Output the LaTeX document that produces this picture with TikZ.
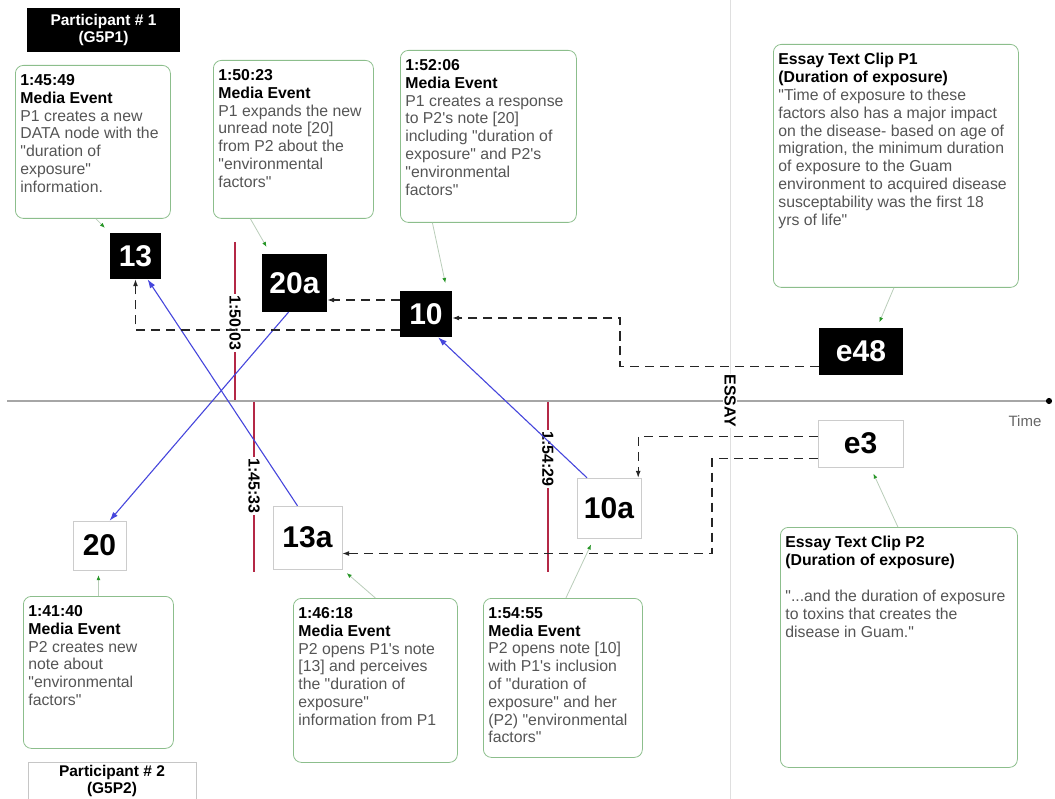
\documentclass[tikz,border=0pt]{standalone}
\usepackage{fontspec}
\setmainfont{Liberation Sans}[Ligatures=TeXOff]
\usetikzlibrary{arrows.meta}
\definecolor{boxgreen}{RGB}{140,190,140}
\definecolor{notegray}{RGB}{185,205,185}
\definecolor{tipgreen}{RGB}{40,150,40}
\definecolor{linkblue}{RGB}{70,70,220}
\definecolor{markred}{RGB}{180,40,70}
\definecolor{bodygray}{RGB}{85,85,85}
\newcommand{\cliptext}[3]{\parbox[t][#2][t]{#1}{\raggedright\fontsize{15.8}{17.8}\selectfont #3}}
\newcommand{\evhead}[1]{\textbf{#1}\\\textbf{Media Event}\\\color{bodygray}}
\tikzset{
  evbox/.style={draw=boxgreen, line width=0.8pt, rounded corners=8pt, anchor=north west, inner xsep=5pt, inner ysep=9pt},
  pblack/.style={fill=black, text=white, inner sep=0pt, font=\bfseries\fontsize{30}{30}\selectfont},
  pwhite/.style={draw=gray!40, fill=white, text=black, inner sep=0pt, font=\bfseries\fontsize{30}{30}\selectfont},
  pbox/.style={align=center, inner sep=0pt, font=\bfseries\fontsize{15.5}{17}\selectfont},
  markline/.style={draw=markred, line width=1.4pt},
  marklabel/.style={fill=white, rotate=-90, inner sep=1pt, font=\bfseries\fontsize{16}{16}\selectfont},
  linkarrow/.style={draw=linkblue, line width=1.1pt, -{Latex[length=9pt,width=6pt]}},
  dashlink/.style={draw=black!85, line width=1.1pt, dash pattern=on 9pt off 6pt, -{Latex[length=7pt,width=5pt]}},
  notelink/.style={draw=notegray, line width=0.8pt, -{Latex[length=5pt,width=4pt,color=tipgreen]}}
}
\begin{document}
\begin{tikzpicture}[x=1pt,y=-1pt]
\useasboundingbox (0,0) rectangle (1055,799);
% essay line and time axis
\draw[gray!25, line width=1pt] (730,0) -- (730,799);
\draw[gray!70, line width=2pt, -{Circle[length=6pt,color=black]}] (7,401) -- (1052,401);
\node[text=black!60, font=\fontsize{15}{15}\selectfont] (timelbl) at (1025,421) {Time};
\node[marklabel] (essaylbl) at (730,401) {ESSAY};
% time markers
\draw[markline] (235,242) -- (235,400);
\node[marklabel] (t5003) at (235,323) {1:50:03};
\draw[markline] (254,402) -- (254,572);
\node[marklabel] (t4533) at (254,486) {1:45:33};
\draw[markline] (548,402) -- (548,572);
\node[marklabel] (t5429) at (548,459) {1:54:29};
% participants
\node[pbox, fill=black, text=white, minimum width=153pt, minimum height=44pt] (part1) at (103.5,30) {Participant \# 1\\(G5P1)};
\node[pbox, draw=gray!45, minimum width=168pt, minimum height=37pt] (part2) at (112,780.5) {Participant \# 2\\(G5P2)};
% event boxes
\node[evbox] (ev1) at (15,65) {\cliptext{145pt}{135pt}{\evhead{1:45:49}P1 creates a new\\DATA node with the\\"duration of\\exposure"\\information.}};
\node[evbox] (ev2) at (213,60) {\cliptext{150pt}{140pt}{\evhead{1:50:23}P1 expands the new\\unread note [20]\\from P2 about the\\"environmental\\factors"}};
\node[evbox] (ev3) at (400,50) {\cliptext{166pt}{154pt}{\evhead{1:52:06}P1 creates a response\\to P2's note [20]\\including  "duration of\\exposure" and P2's\\"environmental\\factors"}};
\node[evbox] (clip1) at (773,44) {\cliptext{235pt}{225pt}{\textbf{Essay Text Clip P1}\\\textbf{(Duration of exposure)}\\\color{bodygray}"Time of exposure to these\\factors also has a major impact\\on the disease- based on age of\\migration, the minimum duration\\of exposure to the Guam\\environment to acquired disease\\susceptability was the first 18\\yrs of life"}};
\node[evbox] (ev4) at (23,596) {\cliptext{140pt}{134pt}{\evhead{1:41:40}P2 creates new\\note about\\"environmental\\factors"}};
\node[evbox] (ev5) at (293,598) {\cliptext{154pt}{146pt}{\evhead{1:46:18}P2 opens P1's note\\{}[13] and perceives\\the "duration of\\exposure"\\information from P1}};
\node[evbox] (ev6) at (483,598) {\cliptext{149pt}{141pt}{\evhead{1:54:55}P2 opens note [10]\\with P1's inclusion\\of "duration of\\exposure" and her\\(P2) "environmental\\factors"}};
\node[evbox] (clip2) at (780,527) {\cliptext{227pt}{222pt}{\textbf{Essay Text Clip P2}\\\textbf{(Duration of exposure)}\\[18pt]\color{bodygray}"...and the duration of exposure\\to toxins that creates the\\disease in Guam."}};
% notes
\node[pblack, minimum width=51pt, minimum height=46pt] (n13) at (135.5,256) {13};
\node[pblack, minimum width=65pt, minimum height=58pt] (n20a) at (294.5,283) {20a};
\node[pblack, minimum width=52pt, minimum height=46pt] (n10) at (426,314) {10};
\node[pblack, minimum width=84pt, minimum height=47pt] (ne48) at (861,351.5) {e48};
\node[pwhite, minimum width=53pt, minimum height=49pt] (n20) at (99.5,545.5) {20};
\node[pwhite, minimum width=69pt, minimum height=63pt] (n13a) at (307.5,537.5) {13a};
\node[pwhite, minimum width=64pt, minimum height=60pt] (n10a) at (609,508) {10a};
\node[pwhite, minimum width=85pt, minimum height=47pt] (ne3) at (860.5,443.5) {e3};
% opened notes
\draw[linkarrow] ([xshift=-6pt]n20a.south) -- ([xshift=10pt]n20.north);
\draw[linkarrow] ([xshift=-10pt]n13a.north) -- ([xshift=12pt]n13.south);
\draw[linkarrow] ([xshift=-22pt]n10a.north) -- ([xshift=12pt]n10.south);
% build-on links
\coordinate (d10) at ([yshift=14pt]n10.west);
\coordinate (k48) at (620,340);
\coordinate (k3) at (712,500);
\draw[dashlink] (d10) -- (d10 -| n20a.east);
\draw[dashlink] ([yshift=-16pt]n10.west) -| (n13.south);
\draw[dashlink] ([yshift=-15pt]ne48.west) -| (k48) |- ([yshift=-4pt]n10.east);
\draw[dashlink] ([yshift=7pt]ne3.west) -| ([xshift=-3pt]n10a.north east);
\draw[dashlink] ([yshift=-15pt]ne3.west) -| (k3) |- ([yshift=-16pt]n13a.east);
% comment links
\draw[notelink, shorten >=7pt] ([xshift=3pt]ev1.south) -- (n13.north west);
\draw[notelink, shorten >=8pt] ([xshift=-43pt]ev2.south) -- ([xshift=-24pt]n20a.north);
\draw[notelink, shorten >=8pt] ([xshift=-56pt]ev3.south) -- ([xshift=21pt]n10.north);
\draw[notelink, shorten >=6pt] ([xshift=-2pt]clip1.south) -- ([xshift=16pt]ne48.north);
\draw[notelink, shorten >=5pt] (ev4.north) -- ([xshift=-1pt]n20.south);
\draw[notelink, shorten >=6pt] (ev5.north) -- (n13a.south east);
\draw[notelink, shorten >=7pt] ([xshift=3pt]ev6.north) -- ([xshift=-15pt]n10a.south);
\draw[notelink, shorten >=7pt] ([xshift=-1pt]clip2.north) -- ([xshift=10pt]ne3.south);
\end{tikzpicture}
\end{document}
